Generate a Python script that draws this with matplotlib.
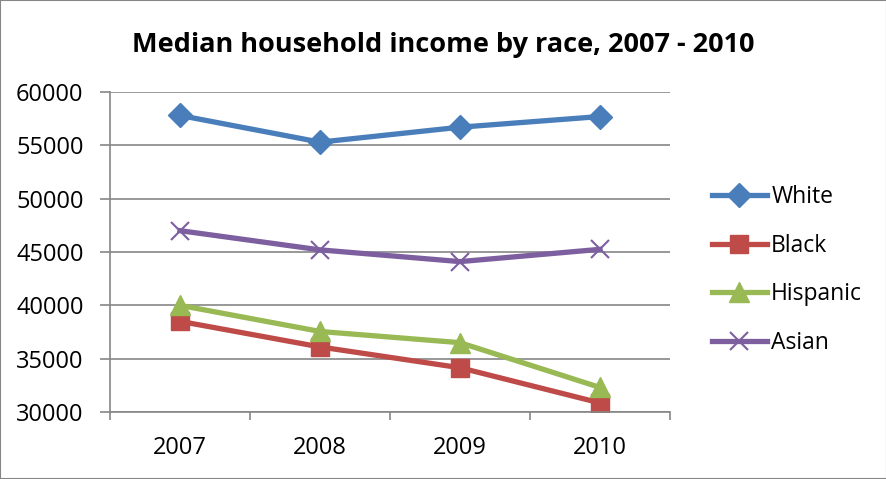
import matplotlib
matplotlib.use("Agg")
import matplotlib.pyplot as plt
from matplotlib.patches import Rectangle

# datos
years = ["2007", "2008", "2009", "2010"]
white = [57800, 55300, 56700, 57700]
black = [38500, 36100, 34150, 30850]
hispanic = [40000, 37550, 36500, 32300]
asian = [47000, 45200, 44100, 45250]

plt.rcParams['font.family'] = ['Open Sans', 'DejaVu Sans']

fig = plt.figure(figsize=(8.87, 4.79), dpi=100)
ax = fig.add_axes([110/887, 1 - 412/479, (670-110)/887, (412-92)/479])

x = [i + 0.5 for i in range(len(years))]
ax.plot(x, white, color='#4a7ebb', lw=3.8, marker='D', ms=12, label='White')
ax.plot(x, black, color='#be4b48', lw=3.8, marker='s', ms=13, label='Black')
ax.plot(x, hispanic, color='#98b954', lw=3.8, marker='^', ms=14, label='Hispanic')
ax.plot(x, asian, color='#7d5fa0', lw=3.8, marker='x', ms=13, mew=1.5, label='Asian')

ax.set_xlim(0, 4)
ax.set_ylim(30000, 60000)
ax.set_yticks(range(30000, 60001, 5000))
ax.set_xticks(range(0, 5))
ax.set_xticklabels([])
ax.set_xticks(x, minor=True)
ax.set_xticklabels(years, minor=True)
ax.tick_params(axis='x', which='minor', length=0, labelsize=17, pad=17)
ax.tick_params(axis='x', which='major', length=6, color='#868686', width=1.2)
ax.tick_params(axis='y', length=7, color='#868686', width=1.2, labelsize=17, pad=12)
ax.grid(axis='y', color='#868686', lw=1.2)
ax.set_axisbelow(True)
for s in ['top', 'right']:
    ax.spines[s].set_visible(False)
for s in ['left', 'bottom']:
    ax.spines[s].set_color('#868686')
    ax.spines[s].set_linewidth(1.2)

fig.text(0.5, 1 - 45/479, "Median household income by race, 2007 - 2010",
         ha='center', va='center', fontsize=19.5, fontweight='bold')

ax.legend(loc='center left', bbox_to_anchor=(691/887, 1 - 270/479),
          bbox_transform=fig.transFigure, frameon=False, fontsize=16.5,
          labelspacing=1.08, handlelength=2.4, handletextpad=0.2)

fig.patches.append(Rectangle((0, 0), 1, 1, transform=fig.transFigure,
                             fill=False, edgecolor='#868686', lw=1.5))

fig.savefig("out.png", dpi=100)
